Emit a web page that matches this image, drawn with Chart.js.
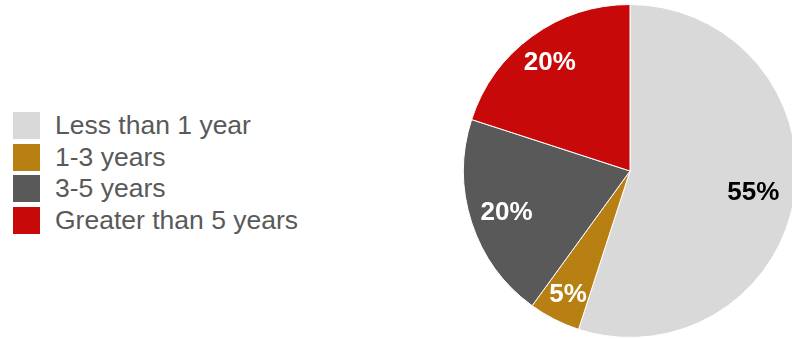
<!DOCTYPE html>
<html>
<head>
<meta charset="utf-8">
<script src="https://cdn.jsdelivr.net/npm/chart.js@4/dist/chart.umd.min.js"></script>
<style>
    html, body { margin: 0; padding: 0; background: #fff; overflow: hidden; }
    body { width: 792px; height: 339px; position: relative; font-family: "Liberation Sans", Arial, sans-serif; }
    .legend { position: absolute; left: 13px; top: 110px; }
    .legend-item { display: flex; align-items: center; height: 31.6px; }
    .legend-box { width: 27px; height: 27px; margin-right: 15px; }
    .legend-text { font-size: 26.5px; color: #595959; line-height: 27px; white-space: nowrap; }
    .pie-wrap { position: absolute; left: 463px; top: 4px; width: 334px; height: 334px; }
</style>
</head>
<body>
<div class="legend" id="legend"></div>
<div class="pie-wrap"><canvas id="pieChart"></canvas></div>
<script>
"use strict";

const labels = ['Less than 1 year', '1-3 years', '3-5 years', 'Greater than 5 years'];
const values = [55, 5, 20, 20];
const colors = ['#D9D9D9', '#B88012', '#595959', '#C8090A'];
const labelColors = ['#000000', '#ffffff', '#ffffff', '#ffffff'];

// 범례
const legendEl = document.getElementById('legend');
labels.forEach((label, i) => {
    const item = document.createElement('div');
    item.classList.add('legend-item');

    const box = document.createElement('span');
    box.classList.add('legend-box');
    box.style.background = colors[i];

    const text = document.createElement('span');
    text.classList.add('legend-text');
    text.appendChild(document.createTextNode(label));

    item.appendChild(box);
    item.appendChild(text);
    legendEl.appendChild(item);
});

// 조각 위에 퍼센트 표시 (조각마다 중심에서의 거리 비율)
const labelRadius = [0.75, 0.82, 0.78, 0.82];
const labelFontSize = 26;

const sliceLabels = {
    id: 'sliceLabels',
    afterDatasetsDraw(chart) {
        const ctx = chart.ctx;
        const meta = chart.getDatasetMeta(0);
        ctx.save();
        ctx.font = 'bold ' + labelFontSize + 'px "Liberation Sans", Arial, sans-serif';
        ctx.textAlign = 'center';
        ctx.textBaseline = 'alphabetic';
        // 숫자 높이의 절반만큼 내려서 가운데 맞춤
        const capHalf = labelFontSize * 0.716 / 2;
        meta.data.forEach((arc, i) => {
            const {x, y, startAngle, endAngle, outerRadius} = arc.getProps(['x', 'y', 'startAngle', 'endAngle', 'outerRadius'], true);
            const mid = (startAngle + endAngle) / 2;
            const r = outerRadius * labelRadius[i];
            ctx.fillStyle = labelColors[i];
            ctx.fillText(values[i] + '%', x + Math.cos(mid) * r, y + Math.sin(mid) * r + capHalf);
        });
        ctx.restore();
    }
};

const pie = document.getElementById('pieChart').getContext('2d');
const pieChart = new Chart(pie, {
    type: 'pie',
    data: {
        labels: labels,
        datasets: [{
            data: values,
            backgroundColor: colors,
            borderColor: '#ffffff',
            borderWidth: 1,
        }]
    },
    options: {
        maintainAspectRatio: false,
        responsive: true,
        animation: false,
        layout: { padding: 0 },
        plugins: {
            legend: { display: false },
            tooltip: { enabled: false },
            title: { display: false },
        },
    },
    plugins: [sliceLabels],
});
</script>
</body>
</html>
